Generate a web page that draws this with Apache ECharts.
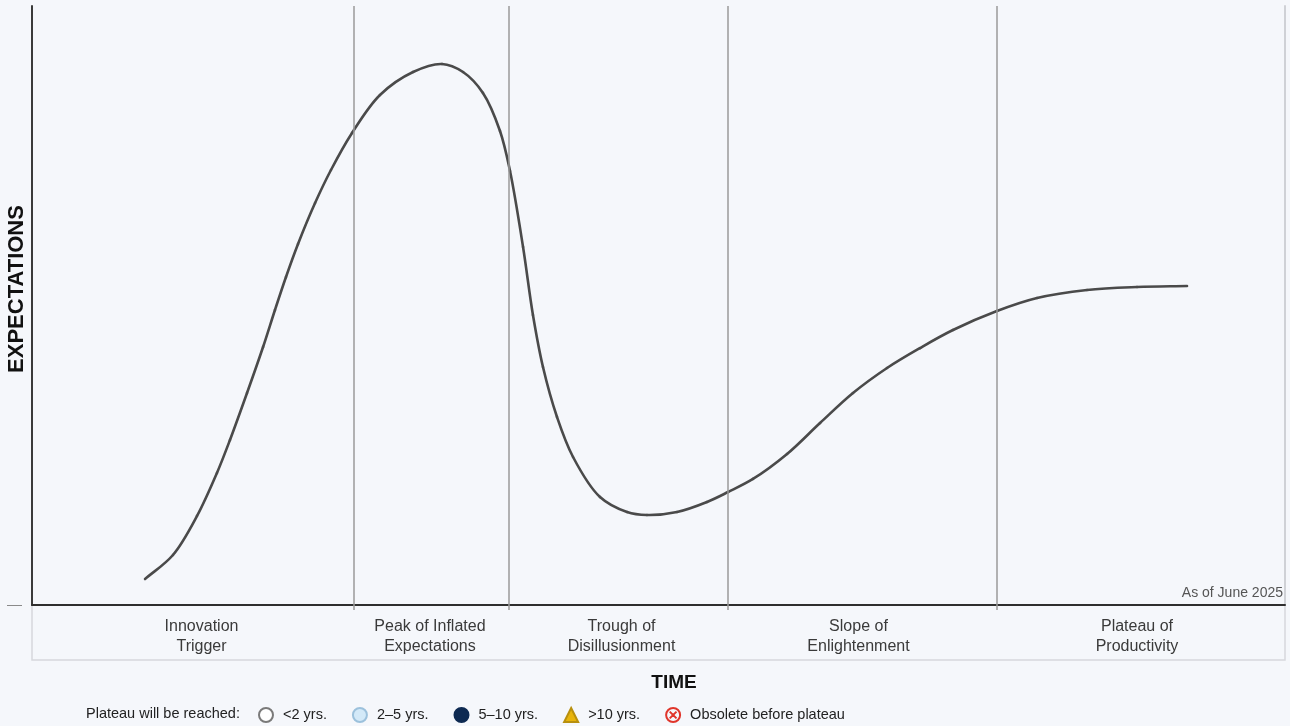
<!DOCTYPE html>
<html>
<head>
<meta charset="utf-8">
<title>Hype Cycle</title>
<script src="https://cdn.jsdelivr.net/npm/echarts@6/dist/echarts.min.js"></script>
<style>
  html, body { margin: 0; padding: 0; background: #f5f7fb; }
  #chart { width: 1290px; height: 726px; }
</style>
</head>
<body>
<div id="chart"></div>
<script>
// Hype curve: [time, expectations] on a 0–100 scale for both axes
const curvePoints = [
  [9.02, 4.34], [11.25, 8.35], [13.17, 14.86], [14.76, 22.04], [15.80, 27.55],
  [17.16, 35.39], [18.44, 43.07], [19.39, 49.25], [20.27, 54.76], [21.23, 60.27],
  [22.59, 67.11], [23.86, 72.62], [25.54, 78.80], [27.77, 85.14], [30.41, 88.98],
  [32.72, 90.32], [34.40, 88.98], [35.99, 85.48], [37.35, 79.13], [38.15, 72.45],
  [39.19, 59.77], [39.98, 48.41], [40.78, 39.73], [41.90, 31.39], [43.18, 24.71],
  [45.33, 18.03], [47.49, 15.53], [49.08, 15.03], [51.48, 15.53], [53.87, 17.20],
  [55.55, 18.86], [57.54, 21.04], [60.26, 25.21], [62.89, 30.38], [65.52, 35.39],
  [68.24, 39.57], [70.87, 42.90], [73.50, 45.91], [77.01, 49.08], [80.21, 51.25],
  [84.20, 52.59], [88.19, 53.09], [92.18, 53.26]
];

// Boundaries between the five phases (time axis)
const phaseBoundaries = [25.70, 38.07, 55.55, 77.01];

// Phase names and where each name sits along the time axis
const phaseNames = [
  'Innovation\nTrigger',
  'Peak of Inflated\nExpectations',
  'Trough of\nDisillusionment',
  'Slope of\nEnlightenment',
  'Plateau of\nProductivity'
];
const phaseLabelX = [13.53, 31.76, 47.05, 65.96, 88.19];

// Legend categories: time until the plateau is reached
const plateauCategories = ['<2 yrs.', '2\u20135 yrs.', '5\u201310 yrs.', '>10 yrs.', 'Obsolete before plateau'];

const FONT = "'Liberation Sans', Arial, sans-serif";
const circleX = 'path://M0,7A7,7 0 1,1 14,7A7,7 0 1,1 0,7Z M3.6,3.6L10.4,10.4 M10.4,3.6L3.6,10.4';

const legendStyles = [
  { icon: 'circle', itemStyle: { color: '#ffffff', borderColor: '#7a7a7a', borderWidth: 1.2, opacity: 1 } },
  { icon: 'circle', itemStyle: { color: '#d3e9f8', borderColor: '#9cc1dc', borderWidth: 1.2, opacity: 1 } },
  { icon: 'circle', itemStyle: { color: '#0e2a52', borderColor: '#0e2a52', borderWidth: 1, opacity: 1 } },
  { icon: 'triangle', itemStyle: { color: '#e8b40c', borderColor: '#b8900e', borderWidth: 1, opacity: 1 } },
  { icon: circleX, itemStyle: { color: 'rgba(0,0,0,0)', borderColor: '#e0352b', borderWidth: 2, opacity: 1 } }
];

// Centripetal Catmull-Rom spline through the projected points, as cubic Bezier pieces
function splineSegments(pts) {
  const segs = [];
  const dist = (a, b) => Math.hypot(b[0] - a[0], b[1] - a[1]);
  for (let i = 0; i < pts.length - 1; i++) {
    const p0 = pts[Math.max(i - 1, 0)];
    const p1 = pts[i];
    const p2 = pts[i + 1];
    const p3 = pts[Math.min(i + 2, pts.length - 1)];
    const d1 = Math.sqrt(dist(p0, p1));
    const d2 = Math.sqrt(dist(p1, p2));
    const d3 = Math.sqrt(dist(p2, p3));
    let c1, c2;
    if (d1 < 1e-6) {
      c1 = [p1[0] + (p2[0] - p1[0]) / 3, p1[1] + (p2[1] - p1[1]) / 3];
    } else {
      const a = d1 * d1, b = d2 * d2, k = 2 * a + 3 * d1 * d2 + b, n = 3 * d1 * (d1 + d2);
      c1 = [(a * p2[0] - b * p0[0] + k * p1[0]) / n, (a * p2[1] - b * p0[1] + k * p1[1]) / n];
    }
    if (d3 < 1e-6) {
      c2 = [p2[0] - (p2[0] - p1[0]) / 3, p2[1] - (p2[1] - p1[1]) / 3];
    } else {
      const a = d3 * d3, b = d2 * d2, k = 2 * a + 3 * d3 * d2 + b, n = 3 * d3 * (d3 + d2);
      c2 = [(a * p1[0] - b * p3[0] + k * p2[0]) / n, (a * p1[1] - b * p3[1] + k * p2[1]) / n];
    }
    segs.push({ x1: p1[0], y1: p1[1], cpx1: c1[0], cpy1: c1[1], cpx2: c2[0], cpy2: c2[1], x2: p2[0], y2: p2[1] });
  }
  return segs;
}

const chart = echarts.init(document.getElementById('chart'), null, { renderer: 'canvas' });

const option = {
  backgroundColor: '#f5f7fb',
  animation: false,
  textStyle: { fontFamily: FONT },
  grid: [
    { left: 32, right: 5, top: 6, bottom: 121, containLabel: false },
    { left: 32, right: 5, top: 605, height: 55, show: true, backgroundColor: 'transparent',
      borderColor: '#d6d8dd', borderWidth: 1.5 }
  ],
  xAxis: [
    {
      type: 'value', gridIndex: 0, min: 0, max: 100,
      axisLine: { show: true, lineStyle: { color: '#2e2e2e', width: 2 } },
      axisTick: { show: true, customValues: phaseBoundaries, length: 5, inside: false,
        lineStyle: { color: '#9a9a9a', width: 1.5 } },
      splitLine: { show: false },
      axisLabel: {
        show: true,
        customValues: phaseLabelX,
        formatter: (v) => phaseNames[phaseLabelX.indexOf(v)],
        margin: 12,
        fontSize: 16,
        lineHeight: 20,
        color: '#3a3a3a',
        fontFamily: FONT
      }
    },
    { type: 'value', gridIndex: 1, min: 0, max: 100, show: false }
  ],
  yAxis: [
    {
      type: 'value', gridIndex: 0, min: 0, max: 100, interval: 100,
      axisLine: { show: true, lineStyle: { color: '#3a3a3a', width: 2 } },
      axisTick: { show: false },
      splitLine: { show: false },
      axisLabel: {
        formatter: (v) => (v === 0 ? '\u2014' : ''),
        color: '#8a8a8a', fontSize: 15, margin: 10
      }
    },
    {
      type: 'value', gridIndex: 0, min: 0, max: 100, position: 'right',
      axisLine: { show: true, lineStyle: { color: '#cfd1d6', width: 2 } },
      axisTick: { show: false }, axisLabel: { show: false }, splitLine: { show: false }
    },
    { type: 'value', gridIndex: 1, min: 0, max: 1, show: false }
  ],
  legend: {
    left: 258, top: 707, padding: 0,
    itemWidth: 14, itemHeight: 14, itemGap: 25,
    selectedMode: false,
    textStyle: { fontSize: 14.5, color: '#222', fontFamily: FONT, padding: [0, 0, 0, 5] },
    data: plateauCategories.map((name, i) => ({ name, icon: legendStyles[i].icon }))
  },
  series: [
    {
      // Phase dividers
      type: 'line',
      xAxisIndex: 0, yAxisIndex: 0,
      data: [],
      silent: true,
      markLine: {
        silent: true,
        symbol: 'none',
        label: { show: false },
        lineStyle: { color: '#9a9a9a', width: 1.5, type: 'solid' },
        data: phaseBoundaries.map(x => ({ xAxis: x }))
      },
      z: 2
    },
    {
      // The expectations curve, drawn as one smooth stroke through every point
      type: 'custom',
      xAxisIndex: 0, yAxisIndex: 0,
      data: curvePoints,
      encode: { x: 0, y: 1 },
      silent: true,
      clip: false,
      z: 3,
      renderItem: (params, api) => {
        if (params.dataIndex !== 0) return null;
        const pts = curvePoints.map(p => api.coord(p));
        return {
          type: 'group',
          children: splineSegments(pts).map(s => ({
            type: 'bezierCurve',
            shape: s,
            style: { stroke: '#4a4a4a', lineWidth: 2.6, fill: null, lineCap: 'round' }
          }))
        };
      }
    },
    ...plateauCategories.map((name, i) => ({
      type: 'scatter', name, data: [],
      symbol: legendStyles[i].icon,
      itemStyle: legendStyles[i].itemStyle
    }))
  ],
  graphic: [
    {
      type: 'text', x: 17, y: 289, rotation: Math.PI / 2,
      style: { text: 'EXPECTATIONS', font: 'bold 22px ' + FONT, fill: '#111',
        align: 'center', verticalAlign: 'middle' }
    },
    {
      type: 'text', x: 674, y: 683,
      style: { text: 'TIME', font: 'bold 19px ' + FONT, fill: '#111',
        align: 'center', verticalAlign: 'middle' }
    },
    {
      type: 'text', x: 1283, y: 593,
      style: { text: 'As of June 2025', font: '14px ' + FONT, fill: '#555',
        align: 'right', verticalAlign: 'middle' }
    },
    {
      type: 'text', x: 86, y: 714,
      style: { text: 'Plateau will be reached:', font: '14.5px ' + FONT, fill: '#222',
        align: 'left', verticalAlign: 'middle' }
    }
  ]
};

chart.setOption(option);
</script>
</body>
</html>
